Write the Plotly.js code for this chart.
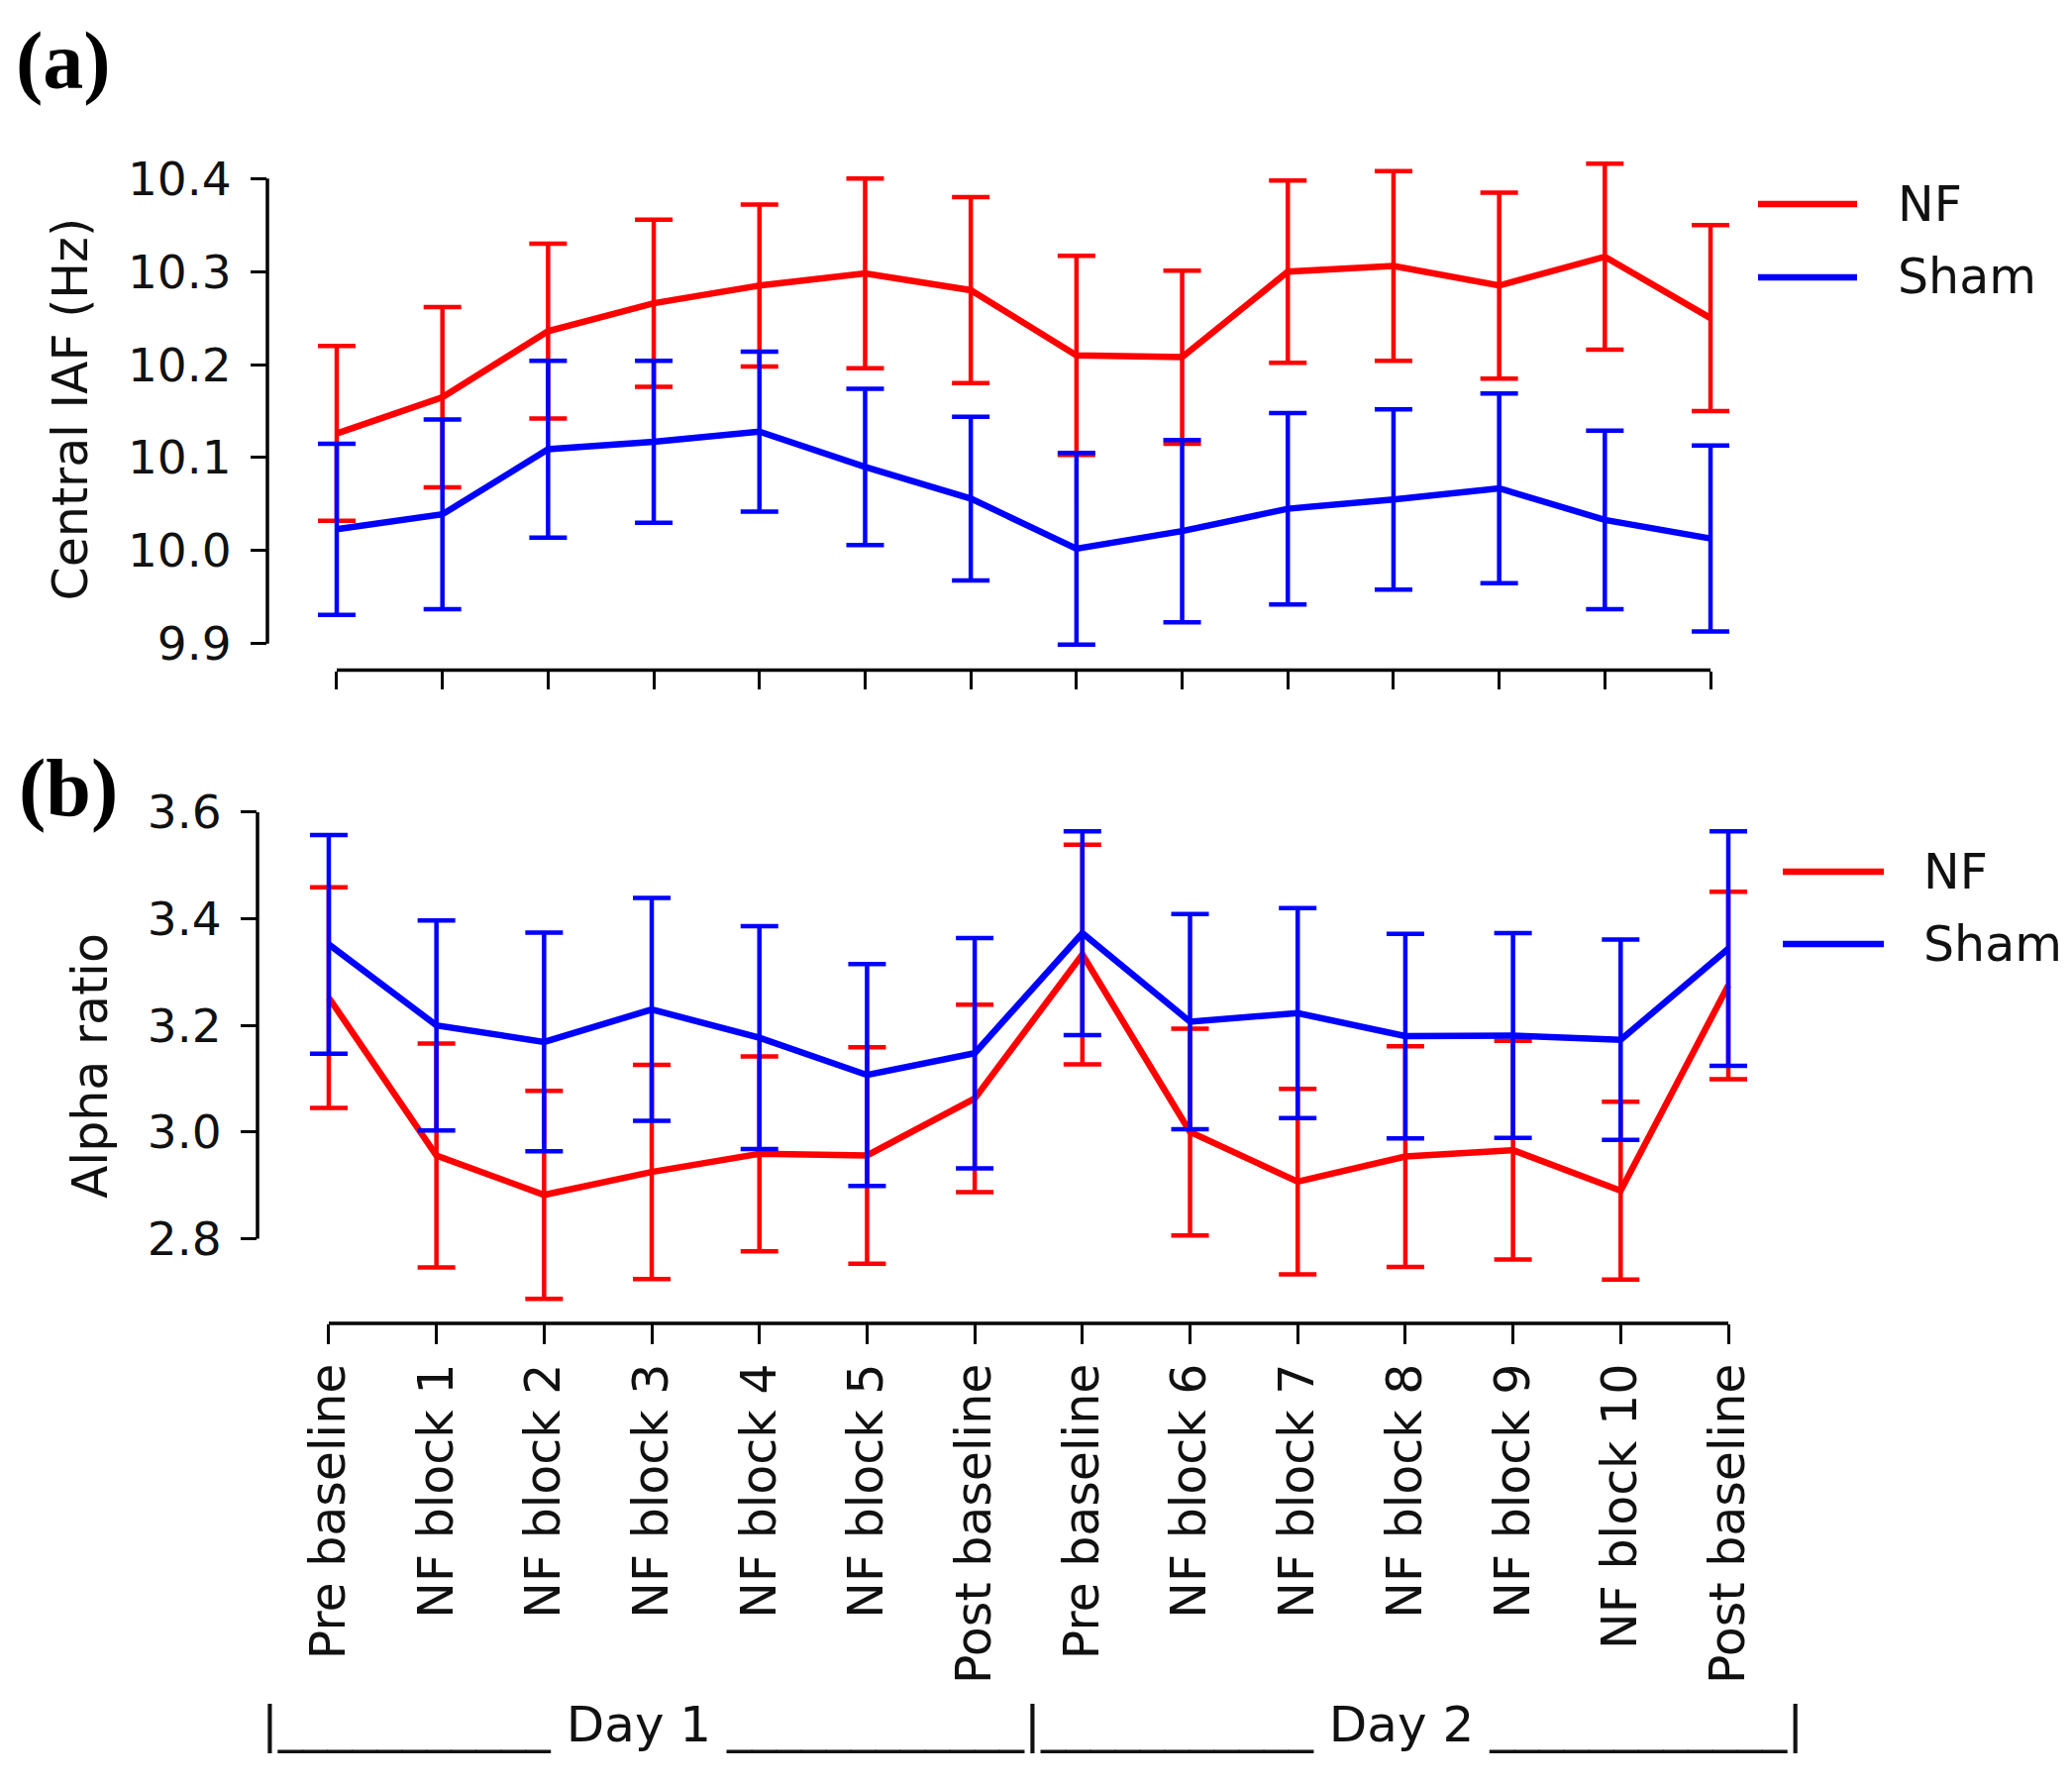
<!DOCTYPE html>
<html>
<head>
<meta charset="utf-8">
<script src="https://cdn.plot.ly/plotly-3.0.1.min.js"></script>
<style>html,body{margin:0;padding:0;background:#fff;} #chart{width:2092px;height:1801px;}</style>
</head>
<body>
<div id="chart"></div>
<script>
// ---- data ----
const categories = ['Pre baseline','NF block 1','NF block 2','NF block 3','NF block 4','NF block 5','Post baseline',
                    'Pre baseline','NF block 6','NF block 7','NF block 8','NF block 9','NF block 10','Post baseline'];
const seriesNames = ['NF','Sham'];
const dayLabels = ['Day 1','Day 2'];

// panel (a): Central IAF (Hz)
const iafNF      = [10.126,10.165,10.236,10.266,10.285,10.298,10.280,10.210,10.208,10.300,10.306,10.285,10.316,10.250];
const iafNFErr   = [0.094,0.097,0.094,0.090,0.087,0.102,0.100,0.107,0.093,0.098,0.102,0.100,0.100,0.100];
const iafSham    = [10.023,10.039,10.109,10.117,10.128,10.090,10.056,10.002,10.021,10.045,10.055,10.067,10.033,10.013];
const iafShamErr = [0.092,0.102,0.095,0.087,0.086,0.084,0.088,0.103,0.098,0.103,0.097,0.102,0.096,0.100];
const iafTicks   = [9.9,10.0,10.1,10.2,10.3,10.4];

// panel (b): Alpha ratio
const arNF       = [3.252,2.956,2.882,2.925,2.959,2.956,3.063,3.333,3.000,2.907,2.954,2.966,2.890,3.275];
const arNFErr    = [0.207,0.210,0.195,0.201,0.183,0.203,0.176,0.206,0.194,0.174,0.207,0.205,0.167,0.176];
const arSham     = [3.352,3.200,3.169,3.230,3.177,3.107,3.148,3.373,3.207,3.223,3.180,3.181,3.173,3.344];
const arShamErr  = [0.205,0.197,0.205,0.209,0.209,0.208,0.216,0.191,0.202,0.197,0.192,0.192,0.188,0.220];
const arTicks    = [2.8,3.0,3.2,3.4,3.6];

// ---- helpers ----
const W = 2092, H = 1801;
const px = v => v / W;
const py = v => 1 - v / H;
const xIdx = categories.map((_, i) => i);
const RED = '#ff0000', BLUE = '#0000ff';
const FONT = 'DejaVu Sans, Verdana, sans-serif';
const TXT = '#111111';

function trace(y, err, color, name, xa, ya) {
  return {
    type: 'scatter', mode: 'lines', x: xIdx, y: y, name: name,
    xaxis: xa, yaxis: ya, showlegend: false, cliponaxis: false,
    line: {color: color, width: 6.5},
    error_y: {type: 'data', array: err, visible: true, color: color, thickness: 4.5, width: 19}
  };
}

const data = [
  trace(iafNF, iafNFErr, RED, seriesNames[0], 'x', 'y'),
  trace(iafSham, iafShamErr, BLUE, seriesNames[1], 'x', 'y'),
  trace(arNF, arNFErr, RED, seriesNames[0], 'x2', 'y2'),
  trace(arSham, arShamErr, BLUE, seriesNames[1], 'x2', 'y2')
];

const axBase = {showgrid: false, zeroline: false, showline: false, ticks: 'outside',
                tickcolor: '#000', tickwidth: 3, color: TXT, fixedrange: true};

const dayText = '|' + '_'.repeat(11) + ' ' + dayLabels[0] + ' ' + '_'.repeat(12) + '|' +
                '_'.repeat(11) + ' ' + dayLabels[1] + ' ' + '_'.repeat(12) + '|';

const layout = {
  width: W, height: H,
  margin: {l: 0, r: 0, t: 0, b: 0},
  paper_bgcolor: '#fff', plot_bgcolor: 'rgba(0,0,0,0)',
  showlegend: false,
  font: {family: FONT, color: TXT, size: 47},
  xaxis: Object.assign({}, axBase, {
    domain: [px(270), px(1760)], range: [-0.656, 13.309], anchor: 'y',
    tickvals: xIdx, showticklabels: false, ticklen: 18
  }),
  yaxis: Object.assign({}, axBase, {
    domain: [py(676.5), py(150)], range: [9.8715, 10.4323], anchor: 'x',
    tickvals: iafTicks, ticktext: iafTicks.map(v => v.toFixed(1)), ticklen: 16,
    ticklabelstandoff: 10,
    tickfont: {family: FONT, size: 47, color: TXT},
    title: {text: 'Central IAF (Hz)', font: {family: FONT, size: 49, color: TXT}, standoff: 24}
  }),
  xaxis2: Object.assign({}, axBase, {
    domain: [px(260), px(1780)], range: [-0.662, 13.322], anchor: 'y2',
    tickvals: xIdx, ticktext: categories, tickangle: -90, ticklen: 20,
    tickfont: {family: FONT, size: 49, color: TXT}
  }),
  yaxis2: Object.assign({}, axBase, {
    domain: [py(1336), py(816)], range: [2.6409, 3.6074], anchor: 'x2',
    tickvals: arTicks, ticktext: arTicks.map(v => v.toFixed(1)), ticklen: 16,
    ticklabelstandoff: 10,
    tickfont: {family: FONT, size: 47, color: TXT},
    title: {text: 'Alpha ratio', font: {family: FONT, size: 49, color: TXT}, standoff: 24}
  }),
  shapes: [
    // trimmed spines
    {type: 'line', xref: 'x domain', yref: 'y', x0: 0, x1: 0, y0: iafTicks[0], y1: iafTicks[iafTicks.length-1], line: {color: '#000', width: 3.5}},
    {type: 'line', xref: 'x', yref: 'y domain', x0: xIdx[0], x1: xIdx[xIdx.length-1], y0: 0, y1: 0, line: {color: '#000', width: 3.5}},
    {type: 'line', xref: 'x2 domain', yref: 'y2', x0: 0, x1: 0, y0: arTicks[0], y1: arTicks[arTicks.length-1], line: {color: '#000', width: 3.5}},
    {type: 'line', xref: 'x2', yref: 'y2 domain', x0: xIdx[0], x1: xIdx[xIdx.length-1], y0: 0, y1: 0, line: {color: '#000', width: 3.5}},
    // legend samples
    {type: 'line', xref: 'paper', yref: 'paper', x0: px(1775), x1: px(1875), y0: py(206), y1: py(206), line: {color: RED, width: 6.5}},
    {type: 'line', xref: 'paper', yref: 'paper', x0: px(1775), x1: px(1875), y0: py(280), y1: py(280), line: {color: BLUE, width: 6.5}},
    {type: 'line', xref: 'paper', yref: 'paper', x0: px(1800), x1: px(1902), y0: py(880), y1: py(880), line: {color: RED, width: 6.5}},
    {type: 'line', xref: 'paper', yref: 'paper', x0: px(1800), x1: px(1902), y0: py(953), y1: py(953), line: {color: BLUE, width: 6.5}}
  ],
  annotations: [
    {text: '<b>(a)</b>', xref: 'paper', yref: 'paper', x: px(64), y: py(62), xanchor: 'center', yanchor: 'middle', showarrow: false,
     font: {family: 'Liberation Serif, Times New Roman, serif', size: 82, color: '#000'}},
    {text: '<b>(b)</b>', xref: 'paper', yref: 'paper', x: px(69), y: py(795), xanchor: 'center', yanchor: 'middle', showarrow: false,
     font: {family: 'Liberation Serif, Times New Roman, serif', size: 82, color: '#000'}},
    {text: seriesNames[0], xref: 'paper', yref: 'paper', x: px(1914), y: py(206), xanchor: 'left', yanchor: 'middle', showarrow: false, font: {family: FONT, size: 49, color: TXT}},
    {text: seriesNames[1], xref: 'paper', yref: 'paper', x: px(1914), y: py(280), xanchor: 'left', yanchor: 'middle', showarrow: false, font: {family: FONT, size: 49, color: TXT}},
    {text: seriesNames[0], xref: 'paper', yref: 'paper', x: px(1940), y: py(880), xanchor: 'left', yanchor: 'middle', showarrow: false, font: {family: FONT, size: 49, color: TXT}},
    {text: seriesNames[1], xref: 'paper', yref: 'paper', x: px(1940), y: py(953), xanchor: 'left', yanchor: 'middle', showarrow: false, font: {family: FONT, size: 49, color: TXT}},
    {text: dayText, xref: 'paper', yref: 'paper', x: px(262), y: py(1741), xanchor: 'left', yanchor: 'middle', showarrow: false,
     font: {family: FONT, size: 50, color: TXT}}
  ]
};

Plotly.newPlot('chart', data, layout, {staticPlot: true, displayModeBar: false});
</script>
</body>
</html>
